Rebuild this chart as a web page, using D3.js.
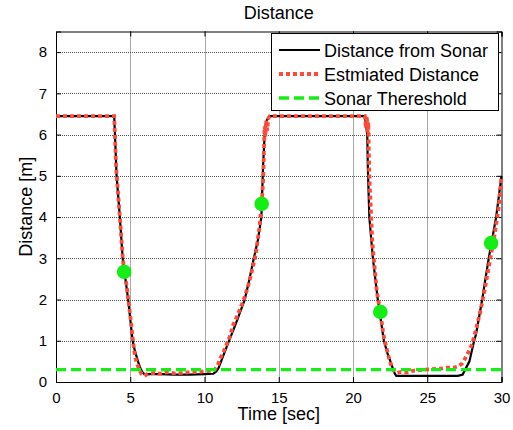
<!DOCTYPE html>
<html>
<head>
<meta charset="utf-8">
<script src="https://cdn.jsdelivr.net/npm/d3@7"></script>
<style>
  html, body { margin: 0; padding: 0; background: #fff; }
  svg { display: block; font-family: "Liberation Sans", Arial, Helvetica, sans-serif; }
</style>
</head>
<body>
<svg id="chart" width="513" height="430"></svg>
<script>
// ---------- data ----------
const chartTitle = "Distance";
const xLabel = "Time [sec]";
const yLabel = "Distance [m]";
const xTicks = [0, 5, 10, 15, 20, 25, 30];
const yTicks = [0, 1, 2, 3, 4, 5, 6, 7, 8];
const xDomain = [0, 30];
const yDomain = [0, 8.5];
const seriesNames = ["Distance from Sonar", "Estmiated Distance", "Sonar Thereshold"];

// [time, distance]
const sonarDistance = [
  [0, 6.45], [3.92, 6.45], [4.08, 5.0], [4.30, 4.0], [4.49, 3.0], [4.86, 2.0], [5.16, 1.0],
  [5.31, 0.76], [5.53, 0.49], [5.65, 0.36], [5.8, 0.25], [5.95, 0.19], [7, 0.19], [8, 0.18],
  [9, 0.18], [10, 0.19], [10.58, 0.2], [10.8, 0.26], [10.95, 0.34], [11.2, 0.58], [11.5, 0.86],
  [11.8, 1.13], [12.2, 1.5], [12.71, 2.0], [13.0, 2.45], [13.32, 3.0], [13.6, 3.45], [13.83, 4.0],
  [13.94, 5.2], [14.05, 6.0], [14.2, 6.35], [14.39, 6.45], [16, 6.45], [18, 6.45], [20, 6.45],
  [20.8, 6.45], [20.96, 6.0], [21.0, 5.2], [21.1, 4.0], [21.34, 3.0], [21.67, 2.0], [22.08, 1.0],
  [22.3, 0.72], [22.58, 0.44], [22.75, 0.25], [22.9, 0.15], [24, 0.15], [25, 0.15], [26, 0.15],
  [27.05, 0.15], [27.39, 0.18], [27.55, 0.3], [27.84, 0.5], [28.11, 0.93], [28.29, 1.17],
  [28.7, 2.0], [29.14, 3.0], [29.64, 4.0], [30, 5.0]
];

const estimatedDistance = [
  [0, 6.45], [3.92, 6.45], [4.05, 5.2], [4.3, 4.0], [4.5, 3.0], [4.6, 2.65], [4.75, 2.35],
  [4.9, 1.9], [5.05, 1.45], [5.2, 0.95], [5.31, 0.65], [5.45, 0.45], [5.6, 0.3], [5.75, 0.2],
  [5.95, 0.15], [6.2, 0.2], [6.6, 0.22], [7.0, 0.2], [7.5, 0.24], [8, 0.21], [8.5, 0.22],
  [9, 0.24], [9.5, 0.24], [10, 0.26], [10.4, 0.27], [10.7, 0.3], [10.9, 0.42], [11.1, 0.6],
  [11.3, 0.75], [11.5, 0.92], [11.7, 1.1], [11.95, 1.4], [12.2, 1.6], [12.45, 1.82], [12.7, 2.05],
  [12.95, 2.35], [13.2, 2.7], [13.45, 3.1], [13.7, 3.75], [13.85, 4.3], [13.95, 4.9], [14.0, 5.6],
  [14.05, 6.2], [14.1, 5.95], [14.15, 6.35], [14.22, 6.1], [14.3, 6.4], [14.4, 6.45], [16, 6.45],
  [18, 6.45], [20.6, 6.45], [20.8, 6.45], [20.87, 6.15], [20.93, 6.45], [20.98, 6.05],
  [21.03, 6.3], [21.1, 5.0], [21.3, 3.4], [21.6, 2.2], [21.84, 1.7], [22.05, 1.15], [22.3, 0.75],
  [22.5, 0.48], [22.7, 0.3], [22.9, 0.22], [23.2, 0.24], [23.6, 0.23], [24, 0.27], [24.4, 0.28],
  [24.8, 0.3], [25.2, 0.31], [25.6, 0.32], [26, 0.33], [26.4, 0.35], [26.8, 0.35], [27.1, 0.38],
  [27.35, 0.45], [27.6, 0.6], [27.85, 0.78], [28.05, 0.95], [28.3, 1.3], [28.6, 1.75],
  [28.9, 2.3], [29.2, 2.9], [29.5, 3.5], [29.8, 4.2], [30, 5.0]
];

const sonarThreshold = 0.3;

const markerTimes = [4.59, 13.85, 21.84, 29.3];
const markerDistances = [2.67, 4.32, 1.70, 3.37];

// ---------- layout ----------
const margin = { left: 56, top: 31.5, right: 11.5, bottom: 48 };
const W = 513, H = 430;
const plotW = W - margin.left - margin.right;
const plotH = H - margin.top - margin.bottom;

const colBlack = "#000000";
const colRed = "#ff4a3a";
const colGreen = "#14ee14";
const fontFam = '"Liberation Sans", Arial, sans-serif';

const svg = d3.select("#chart");
const x = d3.scaleLinear().domain(xDomain).range([margin.left, margin.left + plotW]);
const y = d3.scaleLinear().domain(yDomain).range([margin.top + plotH, margin.top]);

// grid
const grid = svg.append("g");
grid.selectAll("line.vx").data(xTicks.filter(d => d > xDomain[0] && d < xDomain[1])).join("line")
  .attr("x1", d => Math.round(x(d)) + 0.5).attr("x2", d => Math.round(x(d)) + 0.5)
  .attr("y1", margin.top).attr("y2", margin.top + plotH)
  .attr("stroke", "#555").attr("stroke-width", 1).attr("stroke-dasharray", "1,1");
grid.selectAll("line.hy").data(yTicks.filter(d => d > yDomain[0] && d < yDomain[1])).join("line")
  .attr("y1", d => Math.round(y(d)) + 0.5).attr("y2", d => Math.round(y(d)) + 0.5)
  .attr("x1", margin.left).attr("x2", margin.left + plotW)
  .attr("stroke", "#555").attr("stroke-width", 1).attr("stroke-dasharray", "1,1");

// axes (ticks inward)
const tickLen = 5;
const axB = svg.append("g").attr("transform", `translate(0,${margin.top + plotH})`)
  .call(d3.axisBottom(x).tickValues(xTicks).tickSize(-tickLen).tickPadding(7).tickFormat(d3.format("d")));
const axT = svg.append("g").attr("transform", `translate(0,${margin.top})`)
  .call(d3.axisTop(x).tickValues(xTicks).tickSize(-tickLen).tickFormat(""));
const axL = svg.append("g").attr("transform", `translate(${margin.left},0)`)
  .call(d3.axisLeft(y).tickValues(yTicks).tickSize(-tickLen).tickPadding(9).tickFormat(d3.format("d")));
const axR = svg.append("g").attr("transform", `translate(${margin.left + plotW},0)`)
  .call(d3.axisRight(y).tickValues(yTicks).tickSize(-tickLen).tickFormat(""));
[axB, axT, axL, axR].forEach(a => {
  a.select(".domain").attr("stroke", "#000");
  a.selectAll(".tick line").attr("stroke", "#000");
  a.selectAll("text").attr("fill", "#000").style("font-size", "15px").style("font-family", fontFam);
});
axB.selectAll(".tick text").attr("dy", "0.9em");

// lines
const line = d3.line().x(d => x(d[0])).y(d => y(d[1]));
const plot = svg.append("g");
plot.append("path").datum(sonarDistance).attr("d", line)
  .attr("fill", "none").attr("stroke", colBlack).attr("stroke-width", 2.2).attr("stroke-linejoin", "round");
plot.append("path").datum(estimatedDistance).attr("d", line)
  .attr("fill", "none").attr("stroke", colRed).attr("stroke-width", 3.8).attr("stroke-dasharray", "4,3");
plot.append("line")
  .attr("x1", x(xDomain[0])).attr("x2", x(xDomain[1]))
  .attr("y1", y(sonarThreshold)).attr("y2", y(sonarThreshold))
  .attr("stroke", colGreen).attr("stroke-width", 3.4).attr("stroke-dasharray", "10,5");
plot.selectAll("circle").data(markerTimes).join("circle")
  .attr("cx", d => x(d)).attr("cy", (d, i) => y(markerDistances[i])).attr("r", 7.3)
  .attr("fill", colGreen);

// title & labels
svg.append("text").attr("x", margin.left + plotW / 2).attr("y", 19).attr("text-anchor", "middle")
  .style("font-size", "18px").style("font-family", fontFam).text(chartTitle);
svg.append("text").attr("x", margin.left + plotW / 2).attr("y", 420).attr("text-anchor", "middle")
  .style("font-size", "18px").style("font-family", fontFam).text(xLabel);
svg.append("text").attr("transform", `translate(32,${margin.top + plotH / 2}) rotate(-90)`)
  .attr("text-anchor", "middle").style("font-size", "18px").style("font-family", fontFam).text(yLabel);

// legend
const lg = svg.append("g");
lg.append("rect").attr("x", 271.5).attr("y", 33.5).attr("width", 227).attr("height", 77)
  .attr("fill", "#fff").attr("stroke", "#000").attr("stroke-width", 1);
const legStyles = [
  { c: colBlack, w: 2, dash: null },
  { c: colRed, w: 3.8, dash: "4,3" },
  { c: colGreen, w: 3.4, dash: "10,5" }
];
seriesNames.forEach((name, i) => {
  const cy = 50 + i * 24;
  lg.append("line").attr("x1", 279).attr("x2", 320).attr("y1", cy).attr("y2", cy)
    .attr("stroke", legStyles[i].c).attr("stroke-width", legStyles[i].w)
    .attr("stroke-dasharray", legStyles[i].dash);
  lg.append("text").attr("x", 324).attr("y", cy + 6.5).style("font-size", "18px")
    .style("font-family", fontFam).text(name);
});
</script>
</body>
</html>
